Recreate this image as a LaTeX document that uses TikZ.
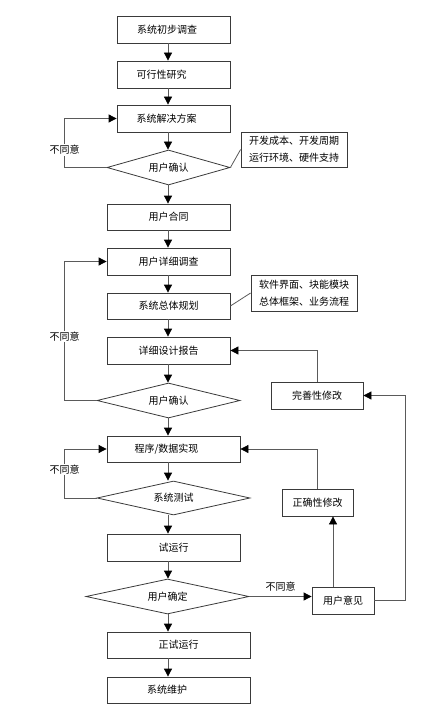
\documentclass[tikz,border=0pt]{standalone}
\usepackage{fontspec}
\setmainfont{Noto Sans CJK SC}
\usetikzlibrary{shapes.geometric,arrows.meta}
\definecolor{FCcolLine}{HTML}{5a5a5a}
\definecolor{FCcolBox}{HTML}{3a3a3a}
\tikzset{
  fcbox/.style={draw=FCcolBox, line width=0.8pt, minimum height=27pt, inner sep=0pt},
  fcdiam/.style={shape=diamond, aspect=3.5, draw=FCcolBox, line width=0.8pt,
    minimum height=35pt, inner sep=0pt},
  fcnote/.style={draw=FCcolBox, line width=0.8pt, align=left, inner sep=0pt,
    minimum width=106pt, minimum height=35pt},
  fcarr/.style={draw=FCcolLine, line width=0.8pt,
    -{Triangle[length=8pt,width=8pt,color=black]}},
  fcline/.style={draw=FCcolLine, line width=0.8pt},
  fclbl/.style={fill=white, inner sep=1pt},
  tshift/.style={execute at begin node={\hspace*{#1}}}
}

\begin{document}
\begin{tikzpicture}[y=1pt, x=1pt, yscale=-1, font=\fontsize{10pt}{17pt}\selectfont]
  \useasboundingbox (0,0) rectangle (435,722);
  \coordinate (spine) at (168,0);

  % main column
  \node[fcbox, minimum width=113pt, tshift=-13pt] (survey) at (173.5,29.5) {系统初步调查};
  \node[fcbox, minimum width=113pt, tshift=-24pt] (feasible) at (173.5,74.5) {可行性研究};
  \node[fcbox, minimum width=113pt, tshift=-14pt] (solution) at (173.5,118.5) {系统解决方案};
  \node[fcdiam, minimum width=123pt] (confirmA) at (168.5,167.5) {用户确认};
  \node[fcnote] (costnote) at (294,149.5) {开发成本、开发周期\\运行环境、硬件支持};
  \node[fcbox, minimum width=123pt, minimum height=26pt] (contract) at (168.5,217) {用户合同};
  \node[fcbox, minimum width=123pt] (detail) at (168.5,261.5) {用户详细调查};
  \node[fcbox, minimum width=123pt, minimum height=26pt] (plan) at (168.5,306) {系统总体规划};
  \node[fcnote, minimum height=36pt] (plannote) at (304,293) {软件界面、块能模块\\总体框架、业务流程};
  \node[fcbox, minimum width=123pt] (report) at (168.5,350.5) {详细设计报告};
  \node[fcdiam, minimum width=143pt] (confirmB) at (168.5,400.5) {用户确认};
  \node[fcbox, minimum width=92pt] (perfect) at (317,395.5) {完善性修改};
  \node[fcbox, minimum width=133pt, minimum height=26pt, tshift=-14pt] (impl) at (173.5,449) {程序/数据实现};
  \node[fcdiam, minimum width=153pt, minimum height=34pt] (systest) at (173.5,498) {系统测试};
  \node[fcbox, minimum width=71pt] (correct) at (317.5,502.5) {正确性修改};
  \node[fcbox, minimum width=133pt] (trial) at (173.5,547.5) {试运行};
  \node[fcdiam, minimum width=163pt] (accept) at (167.5,596.5) {用户确定};
  \node[fcbox, minimum width=62pt] (opinion) at (343,600.5) {用户意见};
  \node[fcbox, minimum width=143pt, minimum height=26pt] (formal) at (178.5,645) {正试运行};
  \node[fcbox, minimum width=143pt, minimum height=26pt, tshift=-23pt] (maintain) at (178.5,690) {系统维护};

  % downward flow
  \draw[fcarr] (survey.south -| spine) -- (feasible.north -| spine);
  \draw[fcarr] (feasible.south -| spine) -- (solution.north -| spine);
  \draw[fcarr] (solution.south -| spine) -- (confirmA.north -| spine);
  \draw[fcarr] (confirmA.south -| spine) -- (contract.north -| spine);
  \draw[fcarr] (contract.south -| spine) -- (detail.north -| spine);
  \draw[fcarr] (detail.south -| spine) -- (plan.north -| spine);
  \draw[fcarr] (plan.south -| spine) -- (report.north -| spine);
  \draw[fcarr] (report.south -| spine) -- (confirmB.north -| spine);
  \draw[fcarr] (confirmB.south -| spine) -- (impl.north -| spine);
  \draw[fcarr] (impl.south -| spine) -- (systest.north -| spine);
  \draw[fcarr] (systest.south -| spine) -- (trial.north -| spine);
  \draw[fcarr] (trial.south -| spine) -- (accept.north -| spine);
  \draw[fcarr] (accept.south -| spine) -- (formal.north -| spine);
  \draw[fcarr] (formal.south -| spine) -- (maintain.north -| spine);

  % notes
  \draw[fcline] (confirmA.east) -- (costnote.west);
  \draw[fcline] (plan.east) -- (plannote.west);

  % disagree loops on the left
  \draw[fcarr] (confirmA.west) -- ++(-42,0) |- node[fclbl, pos=0.18] {不同意} (solution.west);
  \draw[fcarr] (confirmB.west) -- ++(-32,0) |- node[fclbl, pos=0.23] {不同意} (detail.west);
  \draw[fcarr] (systest.west) -- ++(-32,0) |- node[fclbl, pos=0.29] {不同意} (impl.west);

  % user feedback on the right
  \draw[fcarr] (accept.east) -- node[above=1pt] {不同意} (accept.east -| opinion.west);
  \draw[fcarr] ([xshift=-10pt]opinion.north) -- ([xshift=-10pt]opinion.north |- correct.south);
  \draw[fcarr] (correct.north) |- (impl.east);
  \draw[fcarr] (opinion.east) -- ++(31,0) |- (perfect.east);
  \draw[fcarr] (perfect.north) |- (report.east);
\end{tikzpicture}
\end{document}
